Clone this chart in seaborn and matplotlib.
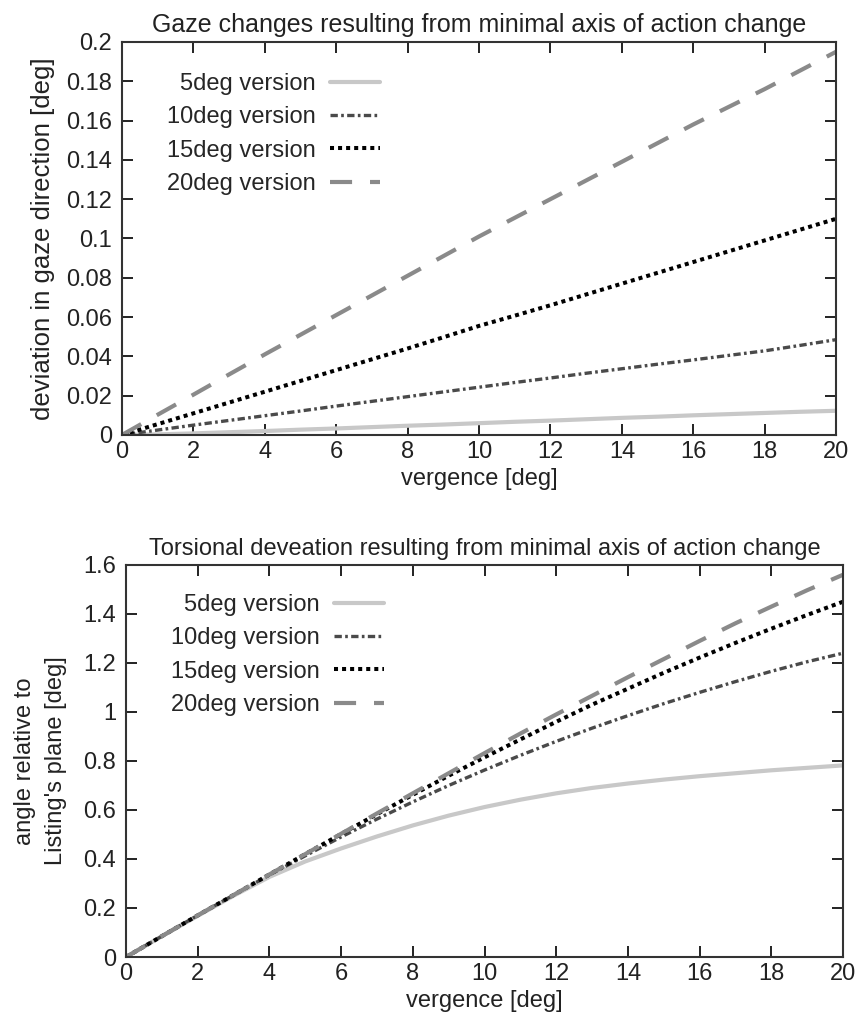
import matplotlib
matplotlib.use("Agg")
import matplotlib.pyplot as plt
import seaborn as sns
import pandas as pd

# vergence angle [deg]
vergence = list(range(0, 21))
labels = ["5deg version", "10deg version", "15deg version", "20deg version"]

# gaze deviation [deg]
gaze_5 = [0, 0.0003, 0.0008, 0.0014, 0.002, 0.0027, 0.0033, 0.004, 0.0047, 0.0053, 0.006,
          0.0067, 0.0073, 0.008, 0.0087, 0.0093, 0.0100, 0.0106, 0.0112, 0.0118, 0.0123]
gaze_10 = [0, 0.0025, 0.005, 0.0074, 0.0098, 0.0122, 0.0147, 0.0171, 0.0195, 0.0219, 0.0243,
           0.0267, 0.029, 0.0314, 0.0337, 0.036, 0.0382, 0.0405, 0.0428, 0.0456, 0.0485]
gaze_15 = [0, 0.0055, 0.011, 0.0165, 0.022, 0.0275, 0.033, 0.0385, 0.044, 0.0497, 0.0555,
           0.0607, 0.066, 0.0715, 0.077, 0.0825, 0.088, 0.0935, 0.099, 0.1045, 0.11]
gaze_20 = [0, 0.0103, 0.0205, 0.0308, 0.041, 0.051, 0.061, 0.071, 0.081, 0.091, 0.101,
           0.1105, 0.12, 0.1295, 0.139, 0.1485, 0.158, 0.167, 0.176, 0.1855, 0.195]

# torsion relative to Listing's plane [deg]
tors_5 = [0, 0.085, 0.168, 0.25, 0.327, 0.39, 0.443, 0.492, 0.537, 0.577, 0.612,
          0.642, 0.668, 0.69, 0.708, 0.724, 0.738, 0.75, 0.762, 0.772, 0.782]
tors_10 = [0, 0.085, 0.17, 0.253, 0.335, 0.413, 0.49, 0.563, 0.633, 0.7, 0.763,
           0.823, 0.88, 0.934, 0.985, 1.034, 1.08, 1.124, 1.166, 1.205, 1.24]
tors_15 = [0, 0.085, 0.17, 0.253, 0.337, 0.42, 0.502, 0.583, 0.662, 0.74, 0.815,
           0.888, 0.96, 1.03, 1.095, 1.16, 1.222, 1.282, 1.34, 1.396, 1.45]
tors_20 = [0, 0.085, 0.17, 0.253, 0.337, 0.42, 0.503, 0.586, 0.668, 0.75, 0.832,
           0.912, 0.99, 1.066, 1.142, 1.216, 1.29, 1.362, 1.43, 1.497, 1.56]

gaze_ticks = [0, 0.02, 0.04, 0.06, 0.08, 0.1, 0.12, 0.14, 0.16, 0.18, 0.2]
tors_ticks = [0, 0.2, 0.4, 0.6, 0.8, 1, 1.2, 1.4, 1.6]
x_ticks = list(range(0, 21, 2))

sns.set_theme(style="ticks")
plt.rcParams["font.family"] = ["Liberation Sans", "DejaVu Sans"]
FS = 17

styles = [
    dict(color="#c8c8c8", lw=3.0, linestyle="-"),
    dict(color="#4a4a4a", lw=2.4, linestyle=(0, (2.2, 1.0, 0.8, 1.0))),
    dict(color="black", lw=2.9, linestyle=(0, (1.0, 1.0))),
    dict(color="#8a8a8a", lw=3.0, linestyle=(0, (5.3, 4.3))),
]


def draw(ax, series, yticks, ymax, title, title_fs, ylabel, ylabel_fs, ylabel_pad, leg_y):
    for lab, vals, st in zip(labels, series, styles):
        df = pd.DataFrame({"vergence": vergence, "value": vals})
        sns.lineplot(data=df, x="vergence", y="value", ax=ax, label=lab, **st)
    ax.set_xlim(0, 20)
    ax.set_ylim(0, ymax)
    ax.set_xticks(x_ticks)
    ax.set_xticklabels([f"{t:g}" for t in x_ticks])
    ax.set_yticks(yticks)
    ax.set_yticklabels([f"{t:g}" for t in yticks])
    ax.tick_params(direction="in", length=8, width=1.4, top=True, right=True,
                   labelsize=FS, colors="#222222")
    ax.tick_params(axis="y", pad=7)
    ax.tick_params(axis="x", pad=4)
    for sp in ax.spines.values():
        sp.set_visible(True)
        sp.set_linewidth(1.5)
        sp.set_color("#333333")
    ax.set_title(title, fontsize=title_fs, pad=7, color="#222222")
    ax.set_xlabel("vergence [deg]", fontsize=FS, color="#222222", labelpad=4)
    ax.set_ylabel(ylabel, fontsize=ylabel_fs, color="#222222", labelpad=ylabel_pad,
                  linespacing=1.5)
    ax.legend(loc="upper left", frameon=False, markerfirst=False, fontsize=FS,
              handlelength=2.1, handletextpad=0.6, labelspacing=0.48,
              borderaxespad=0.0, bbox_to_anchor=(0.05, leg_y))


fig = plt.figure(figsize=(8.62, 10.22), dpi=100)
ax1 = fig.add_axes([0.1415, 0.5744, 0.8285, 0.3846])
ax2 = fig.add_axes([0.1462, 0.0636, 0.8318, 0.3836])

draw(ax1, [gaze_5, gaze_10, gaze_15, gaze_20], gaze_ticks, 0.2,
     "Gaze changes resulting from minimal axis of action change", 18,
     "deviation in gaze direction [deg]", 18.5, 8, 0.945)
draw(ax2, [tors_5, tors_10, tors_15, tors_20], tors_ticks, 1.6,
     "Torsional deveation resulting from minimal axis of action change", 17,
     "angle relative to\nListing's plane [deg]", FS, 12, 0.95)

fig.savefig("out.png", dpi=100)
